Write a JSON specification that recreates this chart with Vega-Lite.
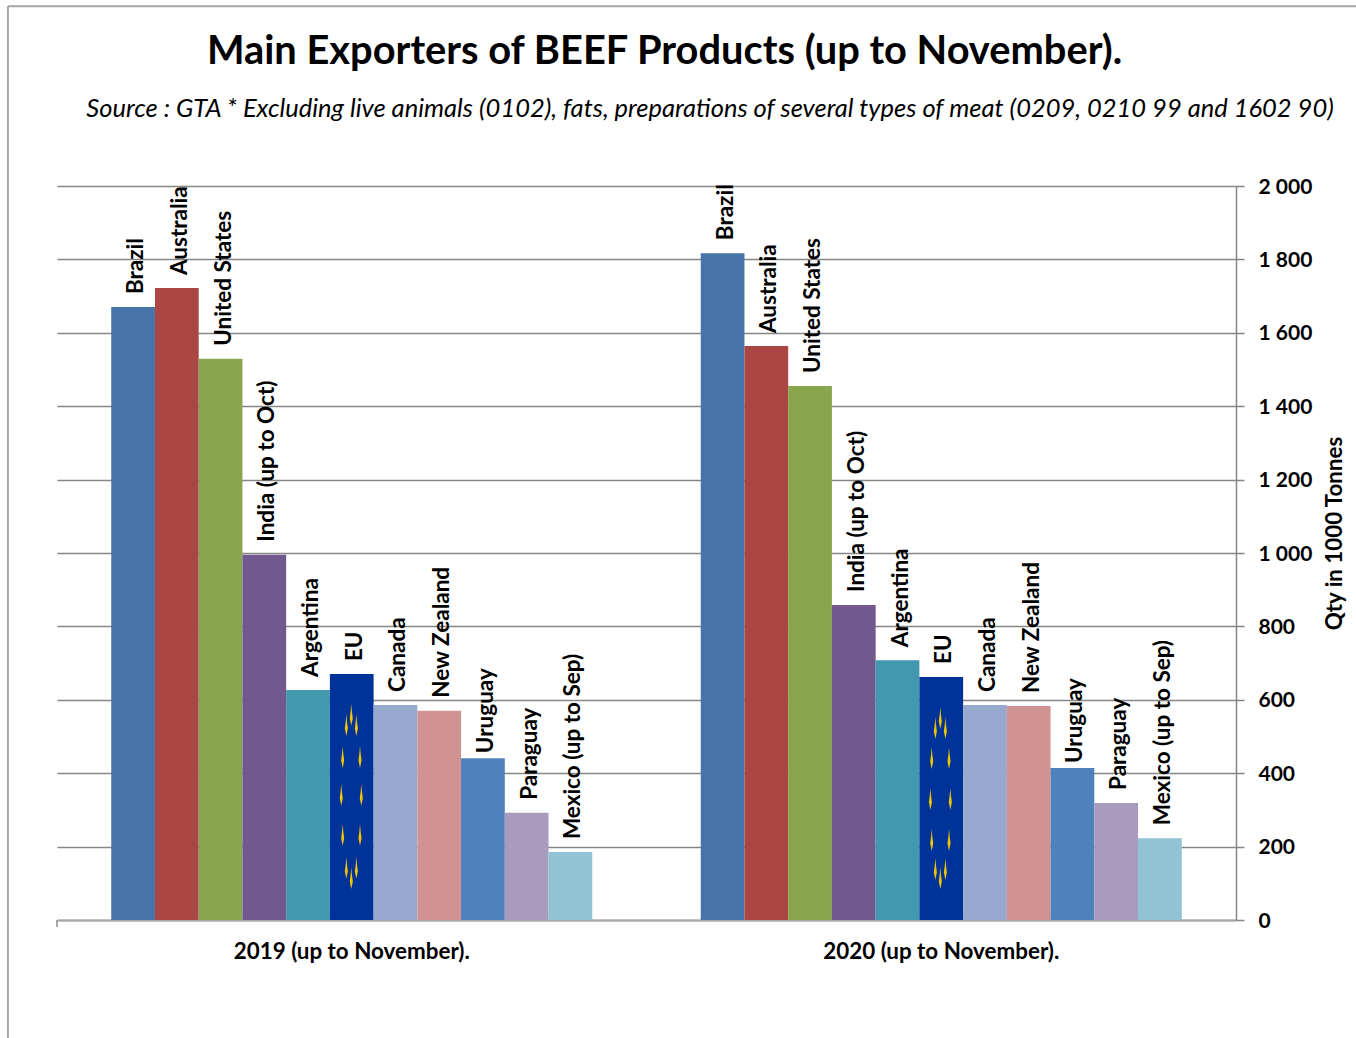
{"$schema":"https://vega.github.io/schema/vega-lite/v6.json","width":1179,"height":734,"autosize":"none","padding":{"left":57,"top":186,"right":120,"bottom":118},"background":"white","title":{"text":"Main Exporters of BEEF Products (up to November).","font":"Lato","fontSize":39.8,"fontWeight":"bold","color":"black","anchor":"middle","frame":"group","dx":18,"offset":-68},"config":{"view":{"stroke":null},"axis":{"labelFont":"Lato","labelFontWeight":"bold","labelColor":"black","titleFont":"Lato","titleFontWeight":"bold","titleColor":"black"}},"datasets":{"bars":[{"year":"2019 (up to November).","country":"Brazil","qty":1670},{"year":"2019 (up to November).","country":"Australia","qty":1722},{"year":"2019 (up to November).","country":"United States","qty":1529},{"year":"2019 (up to November).","country":"India (up to Oct)","qty":995},{"year":"2019 (up to November).","country":"Argentina","qty":627},{"year":"2019 (up to November).","country":"EU","qty":670},{"year":"2019 (up to November).","country":"Canada","qty":586},{"year":"2019 (up to November).","country":"New Zealand","qty":570},{"year":"2019 (up to November).","country":"Uruguay","qty":441},{"year":"2019 (up to November).","country":"Paraguay","qty":292},{"year":"2019 (up to November).","country":"Mexico (up to Sep)","qty":185},{"year":"2020 (up to November).","country":"Brazil","qty":1817},{"year":"2020 (up to November).","country":"Australia","qty":1564},{"year":"2020 (up to November).","country":"United States","qty":1455},{"year":"2020 (up to November).","country":"India (up to Oct)","qty":858},{"year":"2020 (up to November).","country":"Argentina","qty":708},{"year":"2020 (up to November).","country":"EU","qty":662},{"year":"2020 (up to November).","country":"Canada","qty":586},{"year":"2020 (up to November).","country":"New Zealand","qty":583},{"year":"2020 (up to November).","country":"Uruguay","qty":414},{"year":"2020 (up to November).","country":"Paraguay","qty":319},{"year":"2020 (up to November).","country":"Mexico (up to Sep)","qty":223}],"stars":[{"pos":0.2496,"qty":559},{"pos":0.2454,"qty":531},{"pos":0.2539,"qty":531},{"pos":0.2423,"qty":444},{"pos":0.257,"qty":444},{"pos":0.2411,"qty":341},{"pos":0.2581,"qty":341},{"pos":0.2423,"qty":232},{"pos":0.257,"qty":232},{"pos":0.2454,"qty":142},{"pos":0.2539,"qty":142},{"pos":0.2496,"qty":114},{"pos":0.7492,"qty":550},{"pos":0.745,"qty":523},{"pos":0.7535,"qty":523},{"pos":0.7419,"qty":441},{"pos":0.7566,"qty":441},{"pos":0.7408,"qty":330},{"pos":0.7577,"qty":330},{"pos":0.7419,"qty":218},{"pos":0.7566,"qty":218},{"pos":0.745,"qty":139},{"pos":0.7535,"qty":139},{"pos":0.7492,"qty":114}],"frame":[{"pos":-0.0416,"pos2":1.2,"qty":2490,"qty2":2490},{"pos":-0.0416,"pos2":-0.0416,"qty":2490,"qty2":-322},{"pos":0,"pos2":0,"qty":0,"qty2":-19}]},"resolve":{"scale":{"x":"independent"}},"encoding":{"y":{"field":"qty","type":"quantitative","scale":{"domain":[0,2000],"nice":false}}},"layer":[{"data":{"name":"bars"},"encoding":{"x":{"field":"year","type":"nominal","scale":{"paddingInner":0.184,"paddingOuter":0.092},"axis":{"title":null,"labelAngle":0,"labelFontSize":22.4,"labelLimit":400,"labelPadding":20,"ticks":false,"domainColor":"#a6a6a6","domainWidth":2,"labelBaseline":"top"}},"xOffset":{"field":"country","type":"nominal","sort":null,"scale":{"paddingInner":0,"paddingOuter":0}}},"layer":[{"mark":{"type":"bar"},"encoding":{"y":{"field":"qty","type":"quantitative","axis":{"orient":"right","values":[0,200,400,600,800,1000,1200,1400,1600,1800,2000],"grid":true,"gridColor":"#868686","gridWidth":1.3,"domainColor":"#868686","domainWidth":1.5,"tickColor":"#868686","tickWidth":1.5,"tickSize":8,"labelFontSize":21,"labelPadding":14,"labelOffset":1,"labelExpr":"replace(format(datum.value, ','), ',', ' ')","title":"Qty in 1000 Tonnes","titleFontSize":22.3,"titleAngle":270,"titleBaseline":"middle","titleX":98,"titleY":347}},"color":{"field":"country","type":"nominal","sort":null,"legend":null,"scale":{"domain":["Brazil","Australia","United States","India (up to Oct)","Argentina","EU","Canada","New Zealand","Uruguay","Paraguay","Mexico (up to Sep)"],"range":["#4673A8","#AA4643","#89A54E","#71588F","#4198AF","#003399","#98A9CF","#D09392","#4F81BD","#A99BBD","#92C3D5"]}}}},{"transform":[{"filter":"datum.country !== 'Uruguay'"}],"mark":{"type":"text","angle":270,"align":"left","baseline":"middle","font":"Lato","fontWeight":"bold","fontSize":22.5,"color":"black","dx":13,"dy":3},"encoding":{"text":{"field":"country"}}},{"transform":[{"filter":"datum.country === 'Uruguay'"}],"mark":{"type":"text","angle":270,"align":"left","baseline":"middle","font":"Lato","fontWeight":"bold","fontSize":22.5,"color":"black","dx":5,"dy":3},"encoding":{"text":{"field":"country"}}}]},{"data":{"name":"stars"},"mark":{"type":"point","filled":true,"opacity":1,"shape":"M0,-1 L0.06,-0.3 L0.14,0.3 L0,1 L-0.14,0.3 L-0.06,-0.3 Z","size":480,"color":"#F2C500","clip":false},"encoding":{"x":{"field":"pos","type":"quantitative","axis":null,"scale":{"domain":[0,1],"nice":false,"zero":false}}}},{"data":{"name":"frame"},"mark":{"type":"rule","color":"#a6a6a6","strokeWidth":2,"clip":false},"encoding":{"x":{"field":"pos","type":"quantitative","axis":null,"scale":{"domain":[0,1],"nice":false,"zero":false}},"x2":{"field":"pos2"},"y2":{"field":"qty2"}}},{"data":{"values":[{"pos":0.5539,"qty":2210,"note":"Source : GTA * Excluding live animals (0102), fats, preparations of several types of meat (0209, 0210 99 and 1602 90)"}]},"mark":{"type":"text","font":"Lato","fontStyle":"italic","fontSize":25.5,"color":"black","align":"center","baseline":"middle","clip":false},"encoding":{"x":{"field":"pos","type":"quantitative","axis":null,"scale":{"domain":[0,1],"nice":false,"zero":false}},"text":{"field":"note"}}}]}
